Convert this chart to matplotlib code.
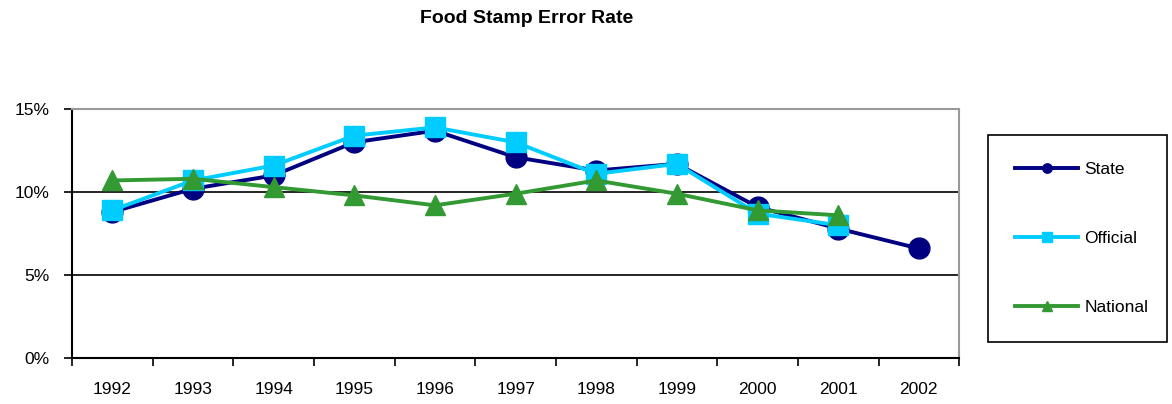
import numpy as np
import matplotlib
matplotlib.use("Agg")
import matplotlib.pyplot as plt

plt.rcParams['font.family'] = ['Liberation Sans', 'DejaVu Sans']

years = ['1992', '1993', '1994', '1995', '1996', '1997', '1998', '1999', '2000', '2001', '2002']
state = [8.8, 10.2, 11.0, 13.0, 13.7, 12.1, 11.3, 11.7, 9.1, 7.8, 6.6]
official = [8.9, 10.7, 11.6, 13.4, 13.9, 13.0, 11.1, 11.7, 8.7, 8.0]
national = [10.7, 10.8, 10.3, 9.8, 9.2, 9.9, 10.7, 9.9, 8.9, 8.6]

fig = plt.figure(figsize=(11.72, 4.04), dpi=100)
ax = fig.add_axes([0.0614, 0.1139, 0.757, 0.616])

x = np.arange(len(years))
ax.plot(x[:len(state)], state, color='#000080', lw=2.8, marker='o', ms=15, label='State', zorder=3)
ax.plot(x[:len(official)], official, color='#00CCFF', lw=2.8, marker='s', ms=15, label='Official', zorder=4)
ax.plot(x[:len(national)], national, color='#339933', lw=2.8, marker='^', ms=15, label='National', zorder=5)

ax.set_xlim(-0.5, len(years) - 0.5)
ax.set_ylim(0, 15)
ax.set_yticks([0, 5, 10, 15])
ax.set_yticklabels(['0%', '5%', '10%', '15%'], fontsize=12.5)
ax.set_xticks(x)
ax.set_xticklabels(years, fontsize=12.5)
ax.set_xticks(np.arange(-0.5, len(years), 1), minor=True)
ax.tick_params(axis='x', which='major', length=0, pad=17)
ax.tick_params(axis='x', which='minor', length=6, width=1.2, direction='out')
ax.tick_params(axis='y', length=6, width=1.2, direction='out', pad=10)

for v in [5, 10]:
    ax.axhline(v, color='black', lw=1.2, zorder=1)

for s in ['top', 'right']:
    ax.spines[s].set_color('#999999')
    ax.spines[s].set_linewidth(1.5)
for s in ['left', 'bottom']:
    ax.spines[s].set_color('black')
    ax.spines[s].set_linewidth(1.5)

fig.text(0.449, 0.953, 'Food Stamp Error Rate', ha='center', va='center',
         fontsize=14, fontweight='bold')

leg = fig.legend(loc='upper left', bbox_to_anchor=(0.843, 0.1485, 0.153, 0.517),
                 mode='expand', fontsize=12.5, markerscale=0.45, handlelength=3.65,
                 labelspacing=3.1, borderpad=1.55, handletextpad=0.35, fancybox=False,
                 edgecolor='black', framealpha=1, borderaxespad=0)
leg.get_frame().set_linewidth(1.2)

fig.savefig('out.png', dpi=100)
